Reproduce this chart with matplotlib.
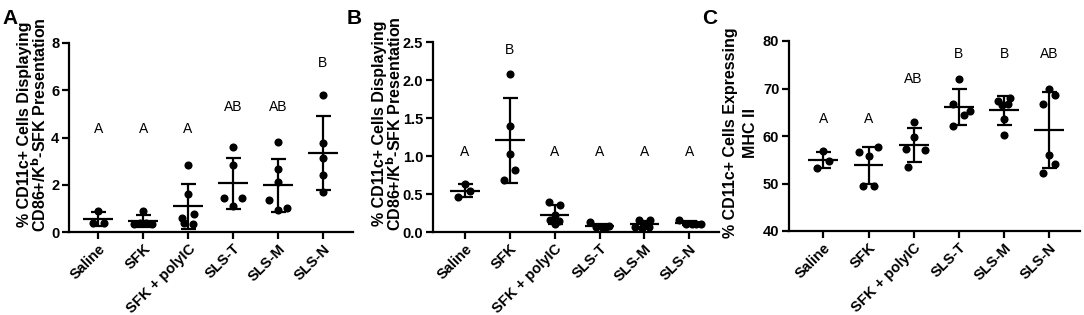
import numpy as np
import matplotlib
matplotlib.use('Agg')
import matplotlib.pyplot as plt

plt.rcParams['font.family'] = ['Liberation Sans', 'DejaVu Sans']

categories = ['Saline', 'SFK', 'SFK + polyIC', 'SLS-T', 'SLS-M', 'SLS-N']

# Panel A: % CD11c+ displaying CD86+/Kb-SFK
a_values = [
    [0.88, 0.36, 0.38],
    [0.90, 0.34, 0.36, 0.38, 0.32],
    [2.82, 1.60, 0.78, 0.60, 0.40, 0.35],
    [3.58, 2.83, 1.42, 1.42, 1.08],
    [3.83, 2.67, 2.10, 1.35, 0.93, 1.00],
    [5.80, 3.76, 3.12, 2.41, 1.71],
]
a_letters = ['A', 'A', 'A', 'AB', 'AB', 'B']
a_letter_y = [4.35, 4.35, 4.35, 5.27, 5.27, 7.15]

# Panel B
b_values = [
    [0.63, 0.46, 0.54],
    [2.08, 1.40, 1.03, 0.82, 0.69],
    [0.39, 0.36, 0.23, 0.16, 0.14, 0.10],
    [0.13, 0.08, 0.07, 0.06, 0.05],
    [0.16, 0.16, 0.10, 0.07, 0.06, 0.05],
    [0.16, 0.11, 0.10, 0.10, 0.10],
]
b_letters = ['A', 'B', 'A', 'A', 'A', 'A']
b_letter_y = [1.05, 2.39, 1.05, 1.05, 1.05, 1.05]

# Panel C: % CD11c+ expressing MHC II
c_values = [
    [56.8, 54.7, 53.3],
    [57.7, 56.6, 55.7, 49.5, 49.5],
    [62.9, 59.8, 57.2, 57.0, 53.4],
    [72.1, 66.7, 65.2, 64.4, 62.1],
    [67.9, 67.4, 66.8, 66.5, 63.5, 60.2],
    [70.0, 68.7, 66.8, 56.1, 54.2, 52.2],
]
c_letters = ['A', 'A', 'AB', 'B', 'B', 'AB']
c_letter_y = [63.5, 63.5, 71.9, 77.3, 77.3, 77.3]

# horizontal scatter spread (styling only)
a_spread = [[0, -0.12, 0.12], [0, -0.2, -0.07, 0.07, 0.2], [0, 0, 0.13, -0.13, -0.1, 0.1],
            [0, 0, -0.2, 0.2, 0], [0, 0, 0, -0.19, 0, 0.21], [0, 0, 0, 0, 0]]
b_spread = [[0, -0.15, 0.11], [0, 0, 0, 0.11, -0.13], [-0.13, 0.11, 0, -0.1, 0.09, 0],
            [-0.22, 0.2, 0.05, -0.08, 0.12], [-0.13, 0.12, 0, -0.2, 0.1, -0.05],
            [-0.22, -0.08, 0.05, 0.15, 0.25]]
c_spread = [[0, 0.13, -0.13], [0.2, -0.2, 0, -0.13, 0.13], [0, 0, -0.16, 0.24, -0.13],
            [0, -0.13, 0.25, 0.11, -0.13], [0.12, -0.13, 0.08, -0.05, 0, 0],
            [0, 0.13, -0.13, 0, 0.13, -0.13]]

fig = plt.figure(figsize=(10.84, 3.15), dpi=100)
W, H = 1084, 315


def make_ax(left, right, top, bottom):
    return fig.add_axes([left / W, 1 - bottom / H, (right - left) / W, (bottom - top) / H])


def draw(ax, values, spread, letters, letter_y, ylim, yticks, ytl, xlim, ylabel,
         label_xy, ls=0.9):
    for i, (vals, offs) in enumerate(zip(values, spread)):
        x = i + np.array(offs)
        ax.scatter(x, vals, s=34, color='black', zorder=3, clip_on=False, linewidths=0)
        m = np.mean(vals)
        sd = np.std(vals, ddof=1)
        ax.plot([i - 0.33, i + 0.33], [m, m], color='black', lw=1.6, zorder=4, solid_capstyle='butt')
        ax.errorbar(i, m, yerr=sd, fmt='none', ecolor='black', elinewidth=1.6,
                    capsize=5.4, capthick=1.6, zorder=4)
        ax.text(i, letter_y[i], letters[i], ha='center', va='center', fontsize=10)
    ax.set_xlim(*xlim)
    ax.set_ylim(*ylim)
    ax.set_yticks(yticks)
    ax.set_yticklabels(ytl, fontsize=10.5, fontweight='bold')
    ax.set_xticks(range(len(categories)))
    ax.set_xticklabels(categories, rotation=45, ha='right', rotation_mode='anchor',
                       fontsize=10.5, fontweight='bold')
    for s in ['top', 'right']:
        ax.spines[s].set_visible(False)
    for s in ['left', 'bottom']:
        ax.spines[s].set_linewidth(1.6)
    ax.tick_params(axis='both', direction='out', length=5, width=1.6, pad=2)
    ax.set_ylabel(ylabel, fontsize=11.5, fontweight='bold', linespacing=ls)
    ax.yaxis.set_label_coords(*label_xy)


axA = make_ax(69, 353, 43, 232)
draw(axA, a_values, a_spread, a_letters, a_letter_y, (0, 8), [0, 2, 4, 6, 8],
     ['0', '2', '4', '6', '8'], (-0.65, 5.67),
     '% CD11c+ Cells Displaying\nCD86+/K$^{\\mathbf{b}}$-SFK Presentation', (-0.07, 0.57))
axB = make_ax(433, 719, 42, 232)
draw(axB, b_values, b_spread, b_letters, b_letter_y, (0, 2.5), [0, 0.5, 1.0, 1.5, 2.0, 2.5],
     ['0.0', '0.5', '1.0', '1.5', '2.0', '2.5'], (-0.1, 0.57),
     '% CD11c+ Cells Displaying\nCD86+/K$^{\\mathbf{b}}$-SFK Presentation', (-0.1, 0.57))
axC = make_ax(789, 1080, 41, 231)
draw(axC, c_values, c_spread, c_letters, c_letter_y, (40, 80), [40, 50, 60, 70, 80],
     ['40', '50', '60', '70', '80'], (-0.76, 5.68),
     '% CD11c+ Cells Expressing\nMHC II', (-0.107, 0.516), ls=1.4)
axB.set_xlim(-0.71, 5.66)

fig.text(2 / W, 1 - 9 / H, 'A', fontsize=15, fontweight='bold', ha='left', va='top')
fig.text(347 / W, 1 - 9 / H, 'B', fontsize=15, fontweight='bold', ha='left', va='top')
fig.text(702 / W, 1 - 9 / H, 'C', fontsize=15, fontweight='bold', ha='left', va='top')

fig.savefig('out.png', dpi=100)
